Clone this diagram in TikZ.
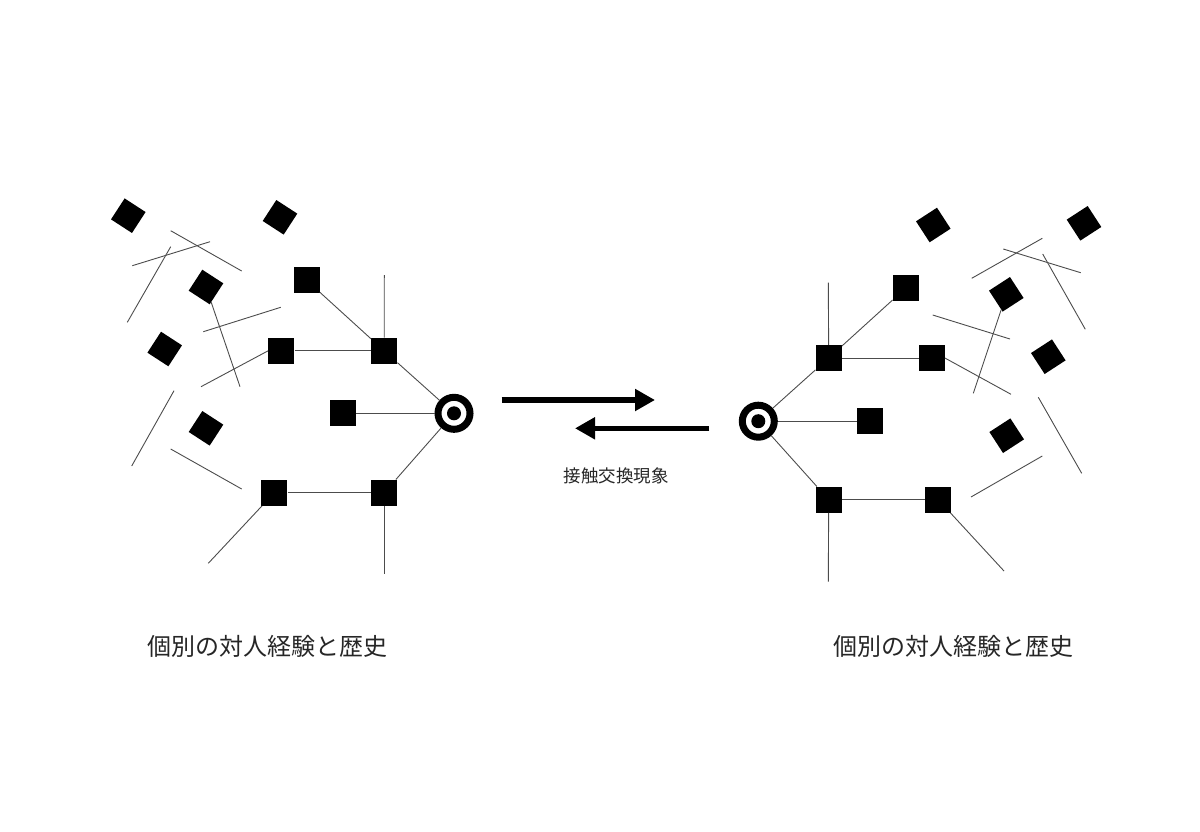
\documentclass[tikz,border=0pt]{standalone}
\usepackage{fontspec}
\usepackage{tikz}
\usetikzlibrary{arrows.meta}
\newfontfamily\jp{Noto Sans CJK JP}

\begin{document}
\begin{tikzpicture}[x=1pt,y=-1pt,
  sq/.style={fill=black,inner sep=0pt,minimum size=26pt},
  dl/.style={sq,minimum size=25pt,rotate=-33},
  dr/.style={sq,minimum size=25pt,rotate=33},
  hub/.style={circle,draw=black,line width=7pt,minimum size=32pt,inner sep=0pt},
  ln/.style={black!70,line width=0.9pt},
  bigarrow/.style={line width=5.5pt,-{Triangle[length=20pt,width=21pt]}},
  lab/.style={font=\jp\fontsize{24}{28}\selectfont,text=black!85}]
\useasboundingbox (0,0) rectangle (1200,831);
% left side
\node[hub] (lt) at (454,413.3) {};
\fill (lt) circle (7pt);
\node[sq] (la) at (306.7,280.3) {};
\node[sq] (lb) at (384.2,350.8) {};
\node[sq] (lc) at (281.3,350.8) {};
\node[sq] (ld) at (342.7,413.3) {};
\node[sq] (le) at (274.3,492.7) {};
\node[sq] (lf) at (384.3,492.7) {};
\node[dl] (ld1) at (128.3,215.7) {};
\node[dl] (ld2) at (280,217.3) {};
\node[dl] (ld3) at (206,287) {};
\node[dl] (ld4) at (164.7,349) {};
\node[dl] (ld5) at (206,428.3) {};
\coordinate (lbt) at (384.3,275);
\coordinate (lft) at (384.3,574.3);
\coordinate (let) at (208.3,563.3);
\coordinate (lct) at (201,386.7);
\coordinate (ld3t) at (240,386.7);
\foreach \from/\to in {la/lb,lc/lb,lb/lt,ld/lt,lf/lt,le/lf,lb/lbt,lf/lft,le/let,lc.west/lct,ld3/ld3t}
\draw[ln] (\from) -- (\to);
\foreach \a/\b in {{170.7,230.7}/{241.7,271},{132.3,265.7}/{210,241.7},{170.7,246.7}/{127.3,322.3},
  {203.3,331.7}/{280.7,307.3},{174,390.7}/{131.7,466},{170.7,449}/{241.7,489}}
\draw[ln] (\a) -- (\b);
% right side
\node[hub] (rt) at (758.3,421.2) {};
\fill (rt) circle (7pt);
\node[sq] (rg) at (828.7,358) {};
\node[sq] (rh) at (905.8,288) {};
\node[sq] (ri) at (931.7,358) {};
\node[sq] (rj) at (869.7,421.2) {};
\node[sq] (rk) at (828.7,499.7) {};
\node[sq] (rl) at (938.3,499.7) {};
\node[dr] (rd1) at (933.3,225) {};
\node[dr] (rd2) at (1084,223.3) {};
\node[dr] (rd3) at (1006.3,294.3) {};
\node[dr] (rd4) at (1048.3,356.7) {};
\node[dr] (rd5) at (1006.7,435.7) {};
\coordinate (rgt) at (828.3,282.7);
\coordinate (rkt) at (828.3,581.7);
\coordinate (rlt) at (1004,571);
\coordinate (rit) at (1011,394.3);
\coordinate (rd3t) at (973.3,393.3);
\foreach \from/\to in {rt/rg,rt/rj,rt/rk,rg/rh,rg/ri,rk/rl,rg/rgt,rk/rkt,rl/rlt,ri.east/rit,rd3/rd3t}
\draw[ln] (\from) -- (\to);
\foreach \a/\b in {{971.7,278.3}/{1042.3,238.3},{1003.3,249}/{1080.7,272.7},{1042.7,254}/{1085.3,329.3},
  {932.7,315}/{1010,339},{1038.3,397.3}/{1081.7,473.3},{971,497}/{1042.3,456}}
\draw[ln] (\a) -- (\b);
% exchange arrows
\coordinate (a1s) at (501.7,400);
\coordinate (a1e) at (655,400);
\coordinate (a2s) at (709.3,428.3);
\coordinate (a2e) at (575,428.3);
\draw[bigarrow] (a1s) -- (a1e);
\draw[bigarrow] (a2s) -- (a2e);
\node[font=\jp\fontsize{17.5}{20}\selectfont,text=black!85] (ex) at (616,476) {接触交換現象};
% captions
\node[lab] (capl) at (267,646) {個別の対人経験と歴史};
\node[lab] (capr) at (953.3,646) {個別の対人経験と歴史};
\end{tikzpicture}
\end{document}
